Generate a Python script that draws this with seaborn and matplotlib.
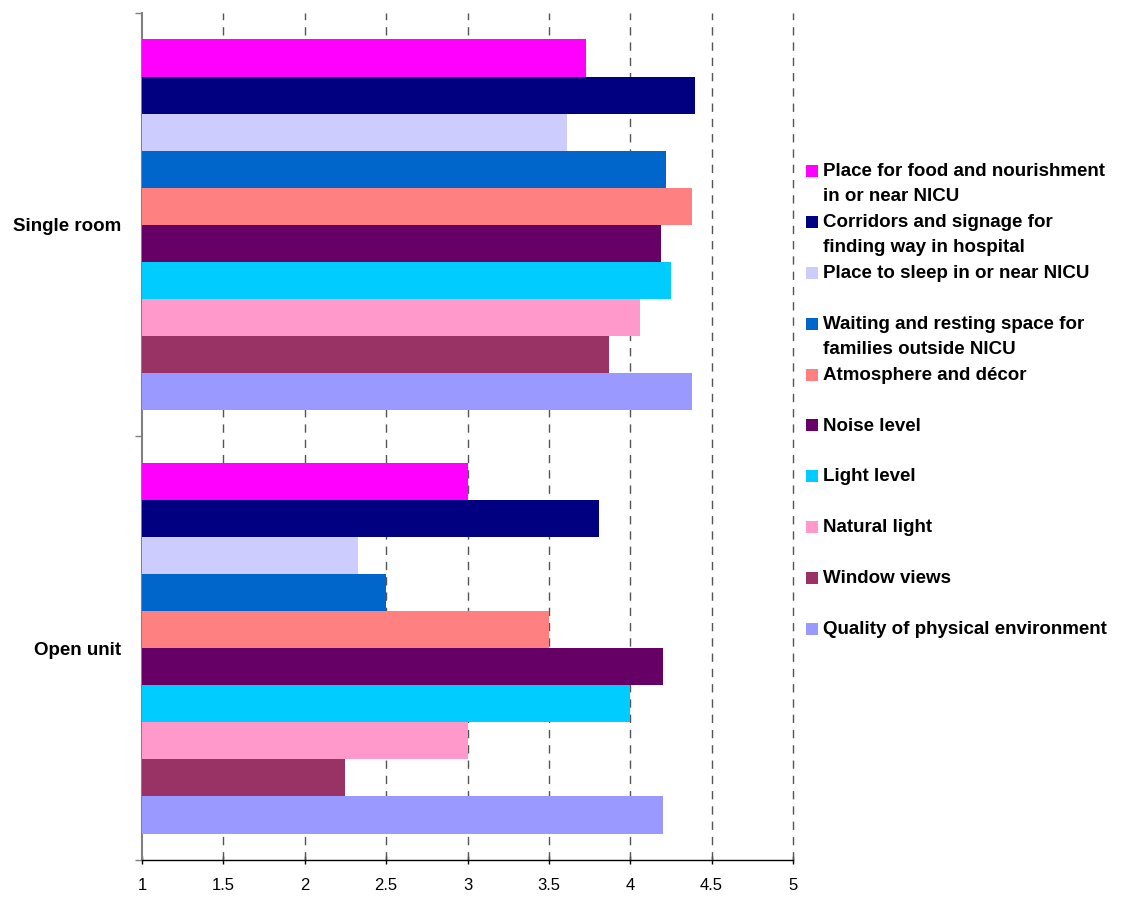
import pandas as pd
import matplotlib.pyplot as plt
from matplotlib.patches import Rectangle
import seaborn as sns

# unit type on the y axis, one bar per item of the physical environment
GROUPS = ["Single room", "Open unit"]

ITEMS = [
    "Place for food and nourishment in or near NICU",
    "Corridors and signage for finding way in hospital",
    "Place to sleep in or near NICU",
    "Waiting and resting space for families outside NICU",
    "Atmosphere and décor",
    "Noise level",
    "Light level",
    "Natural light",
    "Window views",
    "Quality of physical environment",
]

LEGEND_LABELS = [
    "Place for food and nourishment\nin or near NICU",
    "Corridors and signage for\nfinding way in hospital",
    "Place to sleep in or near NICU",
    "Waiting and resting space for\nfamilies outside NICU",
    "Atmosphere and décor",
    "Noise level",
    "Light level",
    "Natural light",
    "Window views",
    "Quality of physical environment",
]

SINGLE_ROOM = [3.73, 4.40, 3.61, 4.22, 4.38, 4.19, 4.25, 4.06, 3.87, 4.38]
OPEN_UNIT = [3.0, 3.81, 2.33, 2.5, 3.5, 4.2, 4.0, 3.0, 2.25, 4.2]

COLORS = ["#FF00FF", "#000080", "#CCCCFF", "#0066CC", "#FF8080",
          "#660066", "#00CCFF", "#FF99CC", "#993366", "#9999FF"]

X_TICKS = [1, 1.5, 2, 2.5, 3, 3.5, 4, 4.5, 5]

sns.set_style("white")
plt.rcParams["font.family"] = ["Liberation Sans", "DejaVu Sans"]
plt.rcParams["text.color"] = "black"
plt.rcParams["xtick.color"] = "black"
plt.rcParams["ytick.color"] = "black"

df = pd.DataFrame({
    "group": [GROUPS[0]] * len(ITEMS) + [GROUPS[1]] * len(ITEMS),
    "item": ITEMS + ITEMS,
    "score": SINGLE_ROOM + OPEN_UNIT,
})

W, H = 1135, 897
fig = plt.figure(figsize=(W / 100, H / 100), dpi=100)
ax = fig.add_axes([142 / W, 1 - 860 / H, (793 - 142) / W, (860 - 13) / H])

sns.barplot(data=df, x="score", y="group", hue="item", hue_order=ITEMS,
            order=GROUPS, palette=COLORS, saturation=1, width=0.875,
            linewidth=0, legend=False, ax=ax, zorder=3)

ax.set_xlim(1, 5)
ax.set_ylim(1.5, -0.5)
ax.set_xticks(X_TICKS)
ax.set_xticklabels([f"{t:g}" for t in X_TICKS], fontsize=12)
ax.set_yticks([0, 1])
ax.set_yticklabels(GROUPS, fontsize=13.5, fontweight="bold")
ax.set_yticks([-0.5, 0.5, 1.5], minor=True)
ax.tick_params(axis="y", which="major", length=0, pad=15)
ax.tick_params(axis="y", which="minor", left=True, length=5, width=1,
               color="#808080", direction="out")
ax.tick_params(axis="x", bottom=True, length=6, width=1, direction="inout",
               pad=10, color="black")
ax.set_xlabel("")
ax.set_ylabel("")

for x in X_TICKS[1:]:
    ax.axvline(x, color="#555555", lw=1, ls=(0, (6, 5)), zorder=1,
               clip_on=False)

sns.despine(ax=ax, top=True, right=True)
ax.spines["left"].set_color("#808080")
ax.spines["left"].set_linewidth(1.5)
ax.spines["bottom"].set_color("black")
ax.spines["bottom"].set_linewidth(1)

# legend on the right, marker aligned to the first text line
for i, (lab, col) in enumerate(zip(LEGEND_LABELS, COLORS)):
    y_base = 176 + i * 50.9
    fig.add_artist(Rectangle((806 / W, 1 - (y_base + 1) / H), 12 / W, 12 / H,
                             transform=fig.transFigure, facecolor=col,
                             edgecolor="none"))
    for j, line in enumerate(lab.split("\n")):
        fig.text(823 / W, 1 - (y_base + j * 25) / H, line, fontsize=13.5,
                 fontweight="bold", va="baseline", ha="left")

fig.savefig("out.png", dpi=100)
